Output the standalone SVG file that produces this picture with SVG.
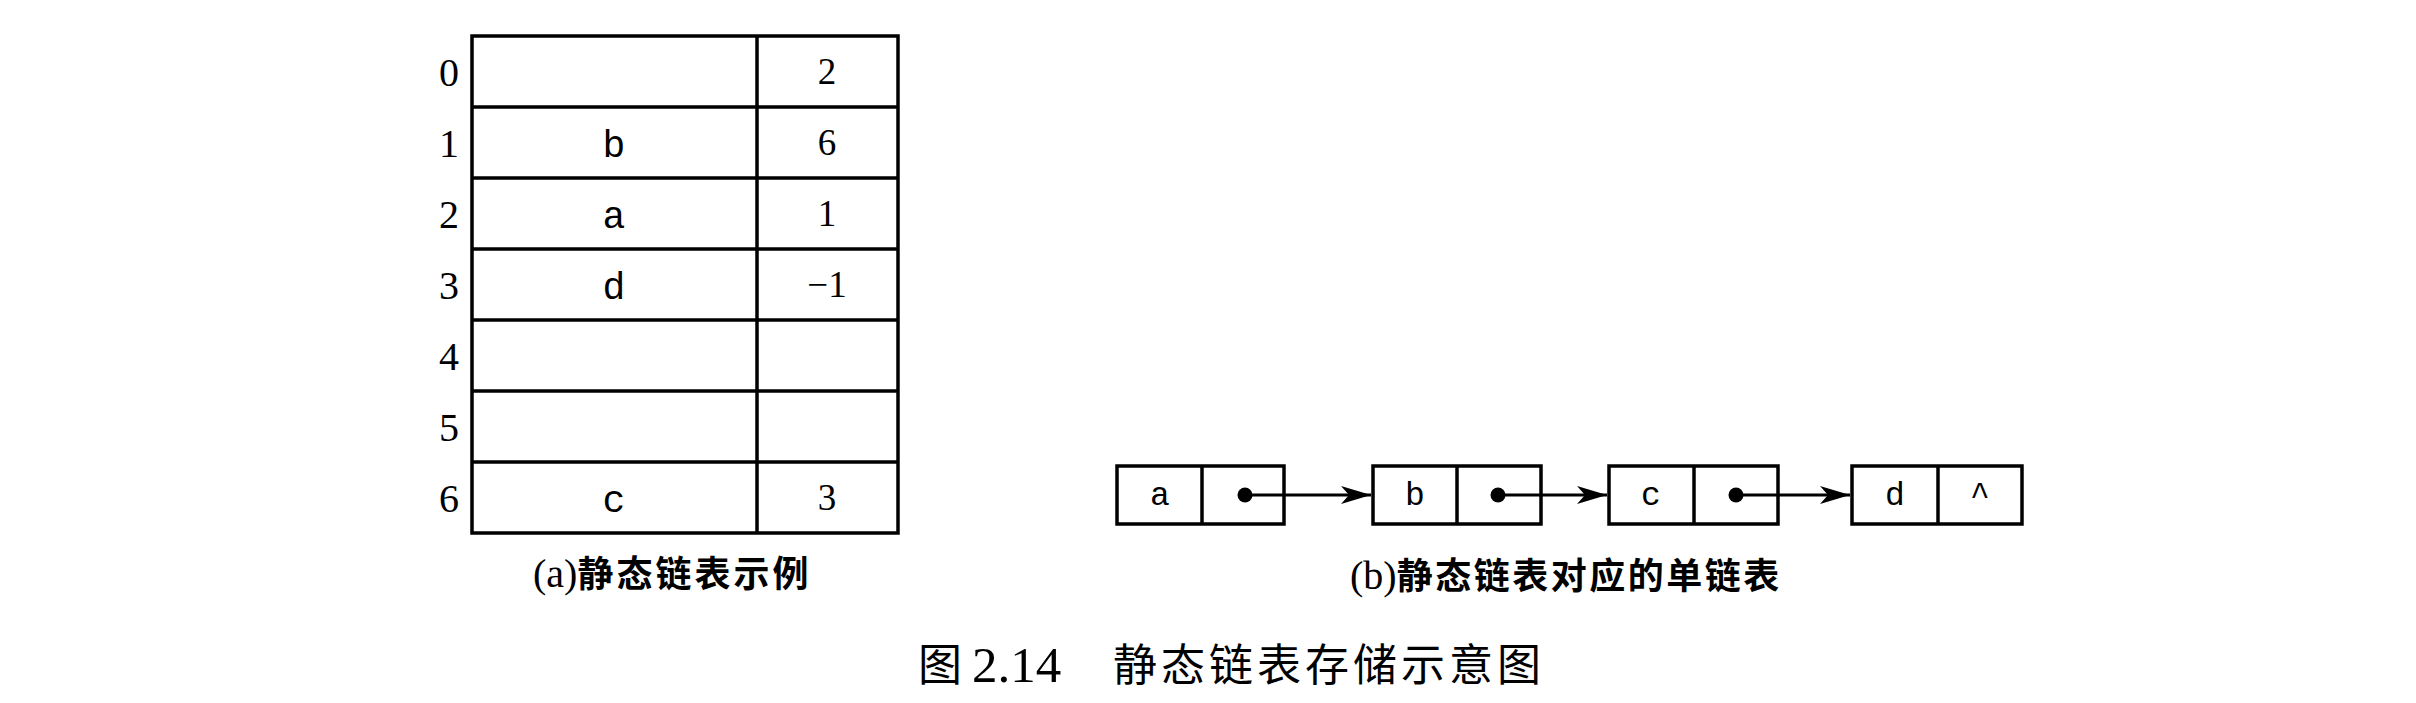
<svg xmlns="http://www.w3.org/2000/svg" width="2416" height="703" viewBox="0 0 2416 703">
<style>
.ln{stroke:#000;stroke-width:3.5;fill:none}
.idx{font-family:"Liberation Serif",serif;font-size:40px;text-anchor:middle;fill:#000}
.mono{font-family:"Liberation Mono",monospace;font-size:38px;text-anchor:middle;fill:#000}
.num{font-family:"Liberation Serif",serif;font-size:37px;text-anchor:middle;fill:#000}
.nmono{font-family:"Liberation Mono",monospace;font-size:33px;text-anchor:middle;fill:#000}
.cap{font-family:"Noto Sans CJK SC",sans-serif;font-size:36px;font-weight:bold;fill:#000}
.capl{font-family:"Liberation Serif",serif;font-size:40px;fill:#000}
.title{font-family:"Noto Sans CJK SC",sans-serif;font-size:44px;fill:#000}
.conn{stroke:#000;stroke-width:3;fill:none}
</style>
<defs>
<marker id="arr" markerUnits="userSpaceOnUse" markerWidth="32" markerHeight="20" refX="30" refY="9" orient="auto">
<path d="M0,0 L30,9 L0,18 L8,9 z" fill="#000"/>
</marker>
</defs>
<rect width="2416" height="703" fill="#fff"/>

<g id="table">
<rect class="ln" x="472" y="36" width="426" height="497"/>
<line class="ln" x1="757" y1="36" x2="757" y2="533"/>
<line class="ln" x1="472" y1="107" x2="898" y2="107"/>
<line class="ln" x1="472" y1="178" x2="898" y2="178"/>
<line class="ln" x1="472" y1="249" x2="898" y2="249"/>
<line class="ln" x1="472" y1="320" x2="898" y2="320"/>
<line class="ln" x1="472" y1="391" x2="898" y2="391"/>
<line class="ln" x1="472" y1="462" x2="898" y2="462"/>
<text class="idx" x="449" y="86">0</text>
<text class="idx" x="449" y="157">1</text>
<text class="idx" x="449" y="228">2</text>
<text class="idx" x="449" y="299">3</text>
<text class="idx" x="449" y="370">4</text>
<text class="idx" x="449" y="441">5</text>
<text class="idx" x="449" y="512">6</text>
<text class="mono" x="614" y="157">b</text>
<text class="mono" x="614" y="228">a</text>
<text class="mono" x="614" y="299">d</text>
<text class="mono" x="614" y="512">c</text>
<text class="num" x="827" y="84">2</text>
<text class="num" x="827" y="155">6</text>
<text class="num" x="827" y="226">1</text>
<text class="num" x="827" y="297">−1</text>
<text class="num" x="827" y="510">3</text>
</g>
<g id="caption-a">
<text x="533" y="587"><tspan class="capl">(a)</tspan><tspan class="cap" letter-spacing="3">静态链表示例</tspan></text>
</g>

<g id="node-a">
<rect class="ln" x="1117" y="466" width="167" height="58"/>
<line class="ln" x1="1202" y1="466" x2="1202" y2="524"/>
<text class="nmono" x="1160" y="505">a</text>
<circle cx="1245" cy="495" r="7.5" fill="#000"/>
</g>
<g id="node-b">
<rect class="ln" x="1373" y="466" width="168" height="58"/>
<line class="ln" x1="1457" y1="466" x2="1457" y2="524"/>
<text class="nmono" x="1415" y="505">b</text>
<circle cx="1498" cy="495" r="7.5" fill="#000"/>
</g>
<g id="node-c">
<rect class="ln" x="1609" y="466" width="169" height="58"/>
<line class="ln" x1="1694" y1="466" x2="1694" y2="524"/>
<text class="nmono" x="1651" y="505">c</text>
<circle cx="1736" cy="495" r="7.5" fill="#000"/>
</g>
<g id="node-d">
<rect class="ln" x="1852" y="466" width="170" height="58"/>
<line class="ln" x1="1938" y1="466" x2="1938" y2="524"/>
<text class="nmono" x="1895" y="505">d</text>
<text class="nmono" x="1980" y="505">^</text>
</g>
<g id="connectors">
<line class="conn" x1="1245" y1="495" x2="1371" y2="495" marker-end="url(#arr)"/>
<line class="conn" x1="1498" y1="495" x2="1607" y2="495" marker-end="url(#arr)"/>
<line class="conn" x1="1736" y1="495" x2="1850" y2="495" marker-end="url(#arr)"/>
</g>
<g id="caption-b">
<text x="1350" y="589"><tspan class="capl">(b)</tspan><tspan class="cap" letter-spacing="2.5">静态链表对应的单链表</tspan></text>
</g>

<g id="title">
<text class="title" x="918" y="681">图</text>
<text x="972" y="682" font-family="Liberation Serif, serif" font-size="51" fill="#000">2.14</text>
<text class="title" x="1113" y="681" letter-spacing="4">静态链表存储示意图</text>
</g>
</svg>
